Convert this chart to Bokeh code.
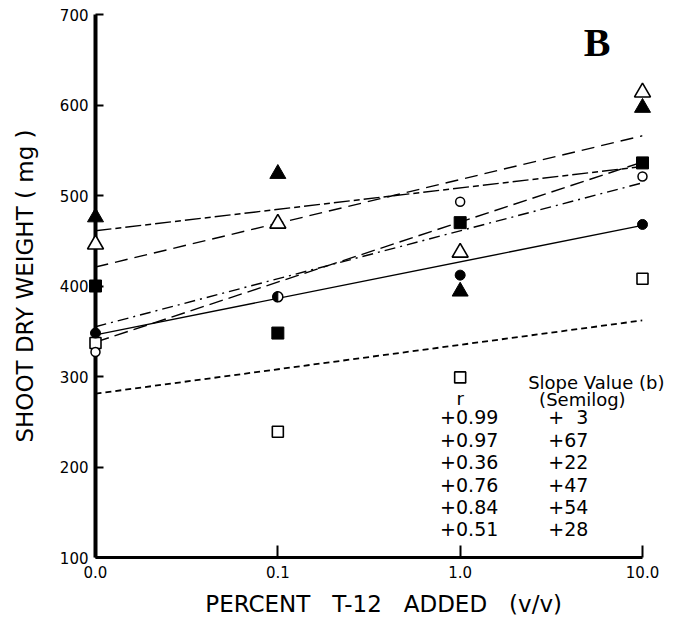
import math
from bokeh.plotting import figure
from bokeh.models import Range1d, FixedTicker, Label
from bokeh.core.properties import value
from bokeh.embed import file_html
from bokeh.resources import INLINE

# ---------------- data ----------------
x_labels = ["0.0", "0.1", "1.0", "10.0"]
x_pos = [0, 1, 2, 3]

filled_circle = [348, 388, 412, 468]
open_circle = [327, 388, 493, 521]
filled_square = [400, 348, 470, 536]
open_square = [337, 239, 299, 408]
filled_triangle = [476, 524, 394, 597]
open_triangle = [446, 469, 437, 614]

# regression lines: fitted values at 0.0 and at 10.0
fit_x = [0, 3]
fit_filled_circle = [346, 467]
fit_open_circle = [355, 514]
fit_filled_square = [338, 537]
fit_open_square = [281, 362]
fit_filled_triangle = [461, 532]
fit_open_triangle = [421, 566]

NB = "\u00a0"
r_values = ["+0.99", "+0.97", "+0.36", "+0.76", "+0.84", "+0.51"]
slope_values = ["+" + NB + NB + "3", "+67", "+22", "+47", "+54", "+28"]

y_ticks = [100, 200, 300, 400, 500, 600, 700]

FONT = "DejaVu Sans"

# ---------------- figure ----------------
p = figure(width=693, height=621, output_backend="svg", toolbar_location=None,
           x_range=Range1d(0, 3), y_range=Range1d(100, 700),
           min_border_left=95, min_border_right=51, min_border_top=14,
           min_border_bottom=64)
p.outline_line_color = None
p.xgrid.visible = False
p.ygrid.visible = False
p.background_fill_color = "white"
p.border_fill_color = "white"

# y axis
ya = p.yaxis[0]
ya.ticker = FixedTicker(ticks=y_ticks)
ya.axis_line_width = 4
ya.axis_line_color = "black"
ya.major_tick_in = 8
ya.major_tick_out = 0
ya.major_tick_line_width = 2
ya.minor_tick_line_color = None
ya.major_label_text_font = FONT
ya.major_label_text_font_size = "15px"
ya.major_label_text_color = "black"
ya.major_label_standoff = 7
ya.axis_label = "SHOOT DRY WEIGHT ( mg )"
ya.axis_label_text_font = FONT
ya.axis_label_text_font_size = "23px"
ya.axis_label_text_font_style = "normal"
ya.axis_label_text_color = "black"
ya.axis_label_standoff = 19

# x axis
gap = NB * 3
xa = p.xaxis[0]
xa.ticker = FixedTicker(ticks=x_pos)
xa.major_label_overrides = {x: lab for x, lab in zip(x_pos, x_labels)}
xa.axis_line_width = 3
xa.axis_line_color = "black"
xa.major_tick_in = 12
xa.major_tick_out = 0
xa.major_tick_line_width = 2
xa.minor_tick_line_color = None
xa.major_label_text_font = FONT
xa.major_label_text_font_size = "15px"
xa.major_label_text_color = "black"
xa.major_label_standoff = 8
xa.axis_label = NB * 4 + "PERCENT" + gap + "T-12" + gap + "ADDED" + gap + "(v/v)"
xa.axis_label_text_font = FONT
xa.axis_label_text_font_size = "23px"
xa.axis_label_text_font_style = "normal"
xa.axis_label_text_color = "black"
xa.axis_label_standoff = 10

# ---------------- regression lines ----------------
p.line(fit_x, fit_filled_circle, line_color="black", line_width=1.4)
p.line(fit_x, fit_open_circle, line_color="black", line_width=1.4, line_dash="11 5 2 5")
p.line(fit_x, fit_filled_square, line_color="black", line_width=1.4, line_dash="14 6")
p.line(fit_x, fit_open_square, line_color="black", line_width=1.8, line_dash="6 4")
p.line(fit_x, fit_filled_triangle, line_color="black", line_width=1.4, line_dash="16 4 6 4")
p.line(fit_x, fit_open_triangle, line_color="black", line_width=1.4, line_dash="13 7")

# ---------------- markers (drawn above the axes, unclipped) ----------------
LV = "overlay"
p.scatter(x_pos, open_square, marker="square", size=11, fill_color="white",
          line_color="black", line_width=1.6, level=LV)
p.scatter(x_pos, filled_square, marker="square", size=12, fill_color="black",
          line_color="black", level=LV)
p.scatter(x_pos, open_triangle, marker="triangle", size=16, fill_color="white",
          line_color="black", line_width=1.6, level=LV)
p.scatter(x_pos, filled_triangle, marker="triangle", size=16, fill_color="black",
          line_color="black", level=LV)
p.scatter(x_pos, open_circle, marker="circle", size=9, fill_color="white",
          line_color="black", line_width=1.5, level=LV)
fc_idx = [0, 2, 3]
p.scatter([x_pos[i] for i in fc_idx], [filled_circle[i] for i in fc_idx],
          marker="circle", size=10, fill_color="black", line_color="black", level=LV)
# half-filled circle where the filled- and open-circle series coincide (0.1)
p.scatter([x_pos[1]], [filled_circle[1]], marker="circle", size=10,
          fill_color="white", line_color="black", line_width=1.5, level=LV)
p.wedge([x_pos[1]], [filled_circle[1]], radius=5, radius_units="screen",
        start_angle=math.pi / 2, end_angle=3 * math.pi / 2,
        fill_color="black", line_color="black", level=LV)

# ---------------- table text ----------------
row_top = 254.7
row_step = 24.75
p.text([1.89] * len(r_values), [row_top - row_step * i for i in range(len(r_values))],
       text=r_values, text_font=value(FONT), text_font_size="19px",
       text_align="left", text_baseline="middle", text_color="black", level=LV)
p.text([2.483] * len(slope_values), [row_top - row_step * i for i in range(len(slope_values))],
       text=slope_values, text_font=value(FONT), text_font_size="19px",
       text_align="left", text_baseline="middle", text_color="black", level=LV)
p.text([2.00, 2.373, 2.433], [275.5, 293.4, 274.6],
       text=["r", "Slope Value (b)", "(Semilog)"], text_font=value(FONT),
       text_font_size="18px", text_align=["center", "left", "left"],
       text_baseline="middle", text_color="black", level=LV)

# panel letter
p.add_layout(Label(x=2.751, y=669, text="B", text_font="Liberation Serif",
                   text_font_style="bold", text_font_size="40px",
                   text_align="center", text_baseline="middle", text_color="black"))

open("out.html", "w").write(file_html(p, INLINE))
